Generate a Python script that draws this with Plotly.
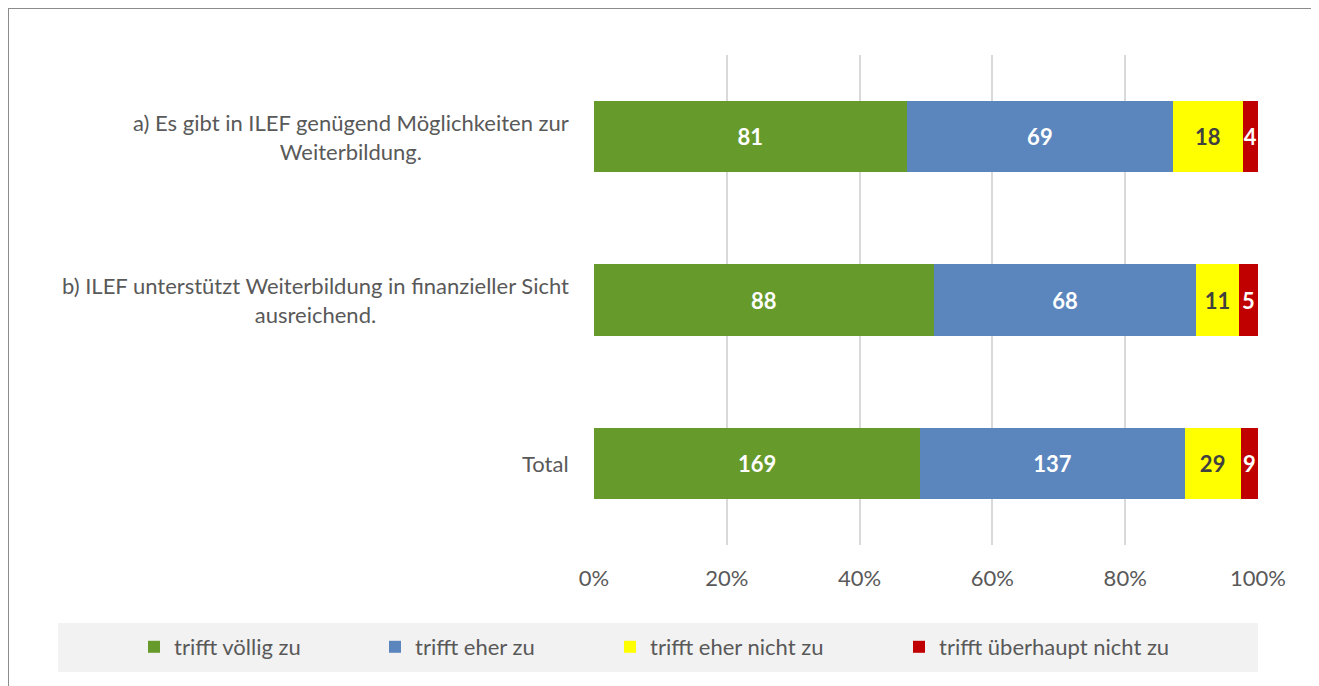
import plotly.graph_objects as go

categories = ["a) Es gibt in ILEF genügend Möglichkeiten zur<br>Weiterbildung.",
              "b) ILEF unterstützt Weiterbildung in finanzieller Sicht<br>ausreichend.",
              "Total"]
series_names = ["trifft völlig zu", "trifft eher zu", "trifft eher nicht zu", "trifft überhaupt nicht zu"]
voellig = [81, 88, 169]
eher = [69, 68, 137]
eher_nicht = [18, 11, 29]
ueberhaupt_nicht = [4, 5, 9]
tick_vals = [0, 20, 40, 60, 80, 100]
tick_text = ["0%", "20%", "40%", "60%", "80%", "100%"]

colors = ["#669A2B", "#5B86BD", "#FFFF00", "#C00000"]
text_colors = ["white", "white", "#404040", "white"]
FONT = "Lato"

# figure-pixel geometry (page is offset by the 8px body margin)
L, R, T, B = 586, 1250, 47, 537
W, H = 1319, 686
PW, PH = R - L, B - T
px = lambda x: (x - L) / PW
py = lambda y: (B - y) / PH

legend_text_starts = [164, 405, 640, 929]  # figure px where each legend label starts

fig = go.Figure()
ids = list(range(len(categories)))
legend_ids = ["legend", "legend2", "legend3", "legend4"]
for name, vals, col, tcol, lid in zip(series_names, [voellig, eher, eher_nicht, ueberhaupt_nicht],
                                      colors, text_colors, legend_ids):
    fig.add_trace(go.Bar(
        y=ids, x=vals, name=name, orientation="h",
        marker=dict(color=col, line=dict(width=0)),
        text=vals, texttemplate="%{text}", textposition="inside",
        insidetextanchor="middle", textangle=0,
        textfont=dict(family=FONT, size=22, color=tcol, weight="bold"),
        hoverinfo="skip", legend=lid,
    ))

for i, c in enumerate(categories):
    fig.add_annotation(x=px(563), xref="paper", y=i, yref="y", text=c,
                       xanchor="right", yanchor="middle", align="center",
                       showarrow=False, font=dict(family=FONT, size=22, color="#595959"))

# legend background
fig.add_shape(type="rect", xref="paper", yref="paper",
              x0=px(50), x1=px(1250), y0=py(664), y1=py(615),
              fillcolor="#F2F2F2", line=dict(width=0), layer="below")
# outer border
fig.add_shape(type="rect", xref="paper", yref="paper",
              x0=px(0), x1=px(1308), y0=py(720), y1=py(0),
              fillcolor="rgba(0,0,0,0)", line=dict(width=2, color="#8C8C8C"), layer="below")

legend_common = dict(orientation="h", xanchor="left", y=py(639), yanchor="middle",
                     font=dict(family=FONT, size=22, color="#595959"),
                     bgcolor="rgba(0,0,0,0)", itemwidth=30)
legends = {}
for lid, ts in zip(legend_ids, legend_text_starts):
    legends[lid] = dict(x=px(ts - 38), **legend_common)

fig.update_layout(
    barmode="stack", barnorm="percent", bargap=0.565,
    width=W, height=H,
    margin=dict(l=L, r=W - R, t=T, b=H - B),
    paper_bgcolor="white", plot_bgcolor="white",
    font=dict(family=FONT, color="#595959"),
    uniformtext=dict(minsize=22, mode="show"),
    showlegend=True,
    xaxis=dict(range=[0, 100], tickvals=tick_vals, ticktext=tick_text,
               showgrid=True, gridcolor="#D9D9D9", gridwidth=1.5,
               zeroline=False, showline=False, ticks="",
               ticklabelstandoff=18,
               tickfont=dict(family=FONT, size=22, color="#595959"), fixedrange=True),
    yaxis=dict(range=[2.5, -0.5], showticklabels=False, showgrid=False,
               zeroline=False, showline=False, ticks="", fixedrange=True),
    **legends,
)

fig.write_html("out.html")
